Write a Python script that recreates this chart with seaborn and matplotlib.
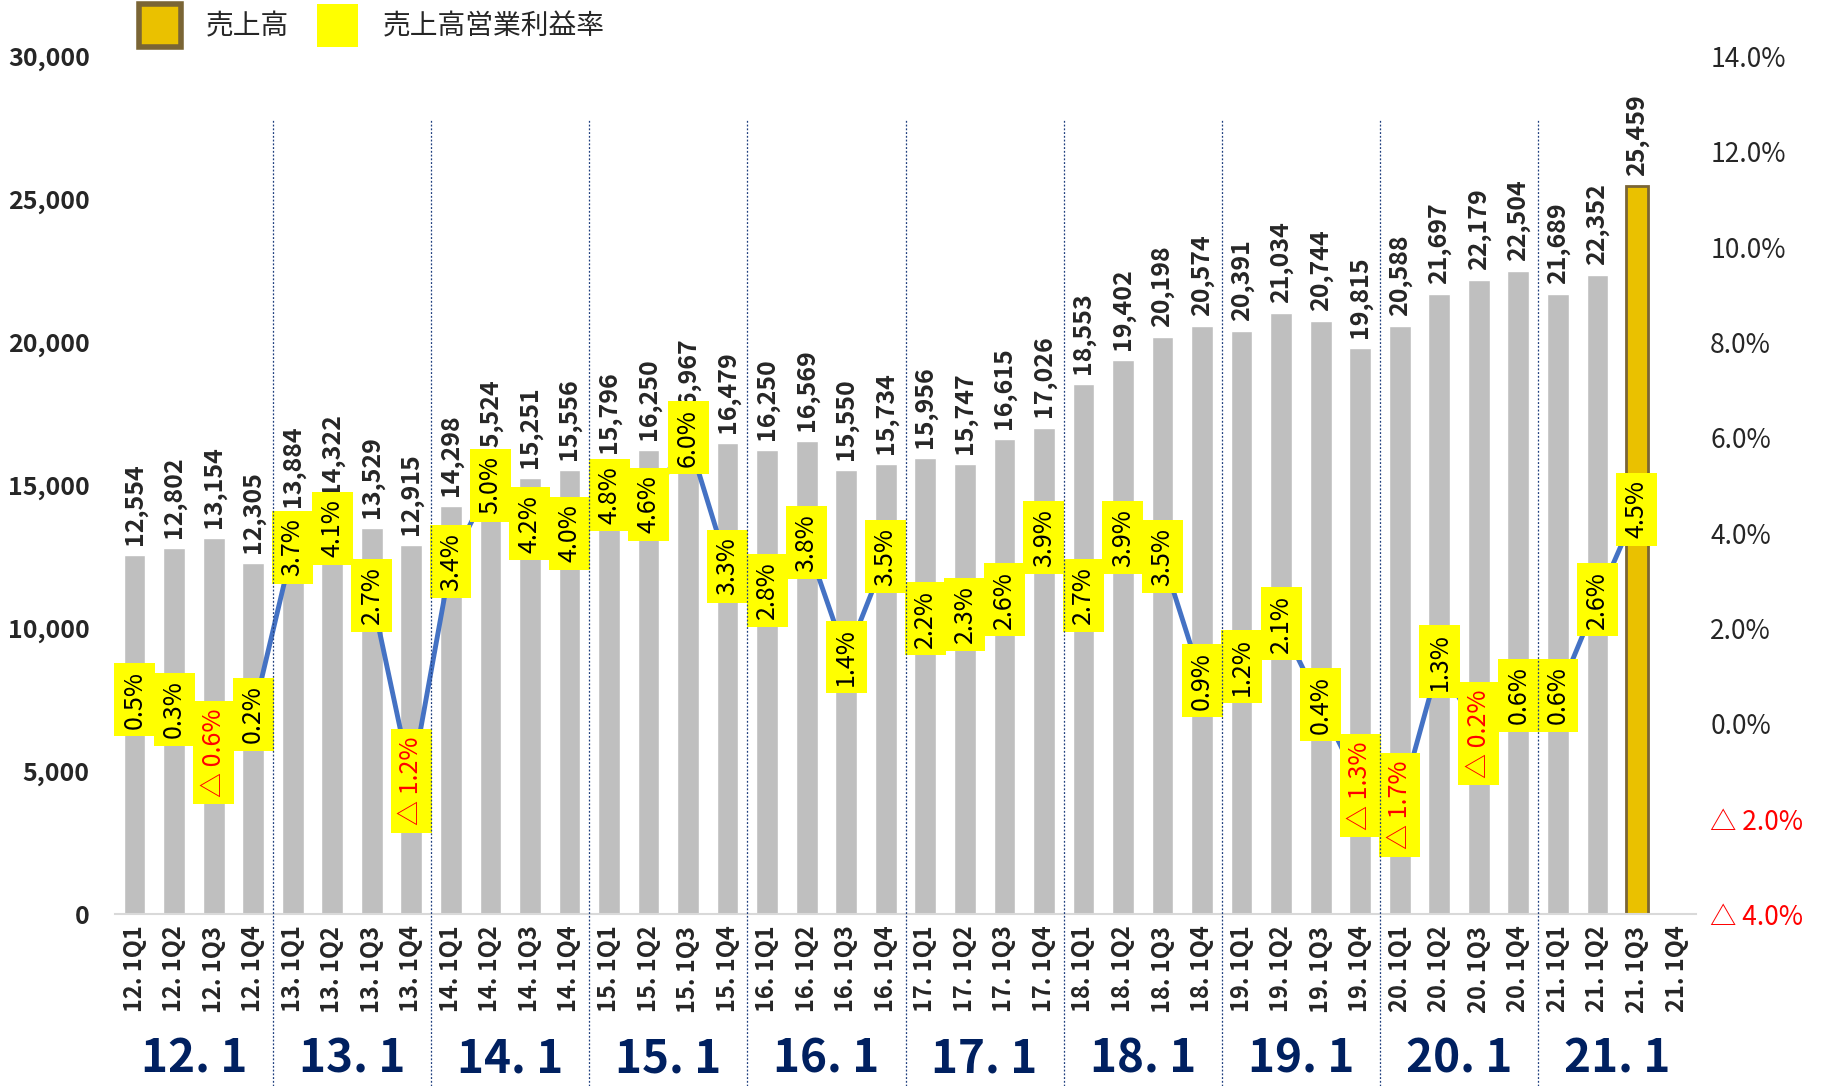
import numpy as np
import pandas as pd
import matplotlib
matplotlib.use('Agg')
import matplotlib.pyplot as plt
import matplotlib.transforms as mtransforms
from matplotlib.patches import Patch
import seaborn as sns

# --- Data ---
years = ['12.1', '13.1', '14.1', '15.1', '16.1', '17.1', '18.1', '19.1', '20.1', '21.1']
quarters = ['1Q1', '1Q2', '1Q3', '1Q4']
periods = [f'{y[:2]}. {q}' for y in years for q in quarters]

sales = [12554, 12802, 13154, 12305,
         13884, 14322, 13529, 12915,
         14298, 15524, 15251, 15556,
         15796, 16250, 16967, 16479,
         16250, 16569, 15550, 15734,
         15956, 15747, 16615, 17026,
         18553, 19402, 20198, 20574,
         20391, 21034, 20744, 19815,
         20588, 21697, 22179, 22504,
         21689, 22352, 25459, np.nan]

margin = [0.5, 0.3, -0.6, 0.2,
          3.7, 4.1, 2.7, -1.2,
          3.4, 5.0, 4.2, 4.0,
          4.8, 4.6, 6.0, 3.3,
          2.8, 3.8, 1.4, 3.5,
          2.2, 2.3, 2.6, 3.9,
          2.7, 3.9, 3.5, 0.9,
          1.2, 2.1, 0.4, -1.3,
          -1.7, 1.3, -0.2, 0.6,
          0.6, 2.6, 4.5, np.nan]

highlight = '21. 1Q3'

# --- Style ---
sns.set_style('white')
plt.rcParams['font.family'] = ['Noto Sans CJK JP', 'DejaVu Sans']

GRAY = '#BFBFBF'
GOLD = '#EAC100'
GOLD_EDGE = '#7A6535'
BLUE = '#4472C4'
NAVY = '#002060'

df = pd.DataFrame({'period': periods, 'sales': sales, 'margin': margin})
df['x'] = np.arange(len(df))

fig = plt.figure(figsize=(18.22, 10.86), dpi=100)
ax = fig.add_axes([0.063, 0.158, 0.868, 0.790])

palette = {p: (GOLD if p == highlight else GRAY) for p in periods}
sns.barplot(data=df, x='period', y='sales', hue='period', palette=palette,
            saturation=1, legend=False, width=0.55, ax=ax, zorder=1)
for bar, p in zip(ax.patches, periods):
    if p == highlight:
        bar.set_edgecolor(GOLD_EDGE)
        bar.set_linewidth(2)

ax.set_xlim(-0.5, len(periods) - 0.5)
ax.set_ylim(0, 30000)
ax.set_yticks(range(0, 30001, 5000))
ax.set_yticklabels([f'{v:,}' for v in range(0, 30001, 5000)], fontsize=18,
                   fontweight='bold')
ax.set_xlabel('')
ax.set_ylabel('')
ax.tick_params(axis='x', length=0, pad=8)
ax.tick_params(axis='y', length=0, pad=18)
ax.set_xticks(df['x'])
ax.set_xticklabels(periods, rotation=90, fontsize=17, fontweight='bold', va='top')
for s in ['left', 'right', 'top']:
    ax.spines[s].set_visible(False)
ax.spines['bottom'].set_color('#D9D9D9')
ax.spines['bottom'].set_linewidth(1.5)

# sales labels
for xi, v in zip(df['x'], df['sales']):
    if np.isnan(v):
        continue
    ax.text(xi, v + 350, f'{int(v):,}', rotation=90, ha='center', va='bottom',
            fontsize=18, fontweight='bold', zorder=2)

# --- Operating margin line ---
ax2 = ax.twinx()
sns.lineplot(data=df, x='x', y='margin', color=BLUE, linewidth=3.5, ax=ax2,
             zorder=3)
ax2.set_ylim(-4, 14)
ticks2 = np.arange(-4, 14.1, 2)
ax2.set_yticks(ticks2)
ax2.set_yticklabels([f'{t:.1f}%' if t >= 0 else f'△ {abs(t):.1f}%' for t in ticks2],
                    fontsize=19)
for lbl, t in zip(ax2.get_yticklabels(), ticks2):
    if t < 0:
        lbl.set_color('red')
ax2.tick_params(axis='y', length=0, pad=10)
ax2.set_xlabel('')
ax2.set_ylabel('')
for s in ['left', 'right', 'top', 'bottom']:
    ax2.spines[s].set_visible(False)

for xi, m in zip(df['x'], df['margin']):
    if np.isnan(m):
        continue
    txt = f'{m:.1f}%' if m >= 0 else f'△ {abs(m):.1f}%'
    ax2.text(xi, m, txt, rotation=90, ha='center', va='center', fontsize=18,
             color='black' if m >= 0 else 'red', zorder=4,
             bbox=dict(boxstyle='square,pad=0.3', facecolor='#FFFF00',
                       edgecolor='none'))

# --- Year separators and labels ---
trans = mtransforms.blended_transform_factory(ax.transData, fig.transFigure)
for i in range(1, len(years)):
    ax2.plot([i * 4 - 0.5] * 2, [0.0, 0.89], transform=trans, color='#1F3F7F',
             linestyle=(0, (1.5, 1.5)), linewidth=0.9, clip_on=False, zorder=5)
for i, y in enumerate(years):
    ax.text(i * 4 + 1.5, 0.024, y.replace('.', '. '), transform=trans,
            ha='center', va='center', fontsize=33, fontweight='bold', color=NAVY)

# --- Legend ---
handles = [Patch(facecolor=GOLD, edgecolor=GOLD_EDGE, linewidth=4, label='売上高'),
           Patch(facecolor='#FFFF00', edgecolor='none', label='売上高営業利益率')]
fig.legend(handles=handles, loc='upper left', bbox_to_anchor=(0.0625, 1.019),
           ncol=2, frameon=False, prop={'size': 20},
           handlelength=1.5, handleheight=2.0, columnspacing=1.0, handletextpad=0.9)

fig.savefig('out.png', dpi=100)
